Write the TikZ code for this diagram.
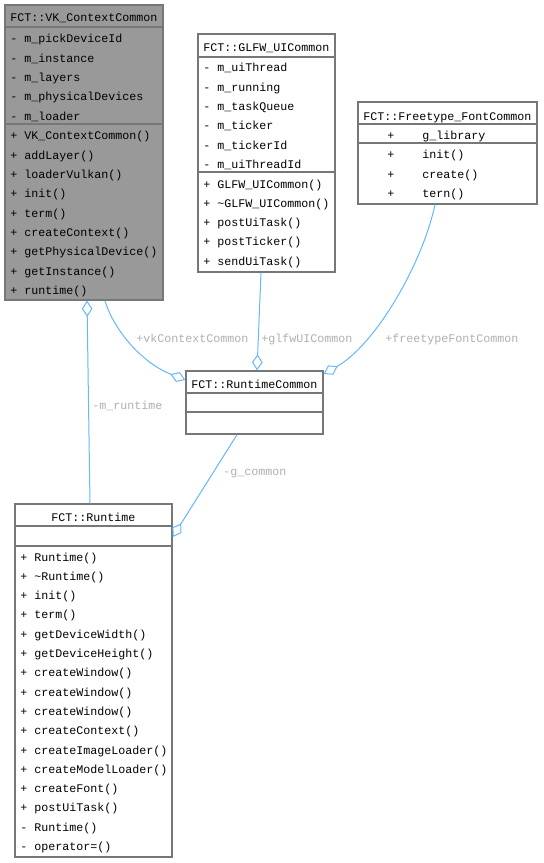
\documentclass[tikz,border=0pt]{standalone}
\usepackage{fontspec}
\newfontfamily\umlfont{Liberation Mono}
\usetikzlibrary{arrows.meta,fit}
\definecolor{boxgray}{HTML}{999999}
\definecolor{boxline}{HTML}{777777}
\definecolor{edgeblue}{HTML}{63B8FF}
\definecolor{labelgray}{HTML}{B0B0B0}
\tikzset{
    classbox/.style={draw=boxline, line width=1pt, inner sep=0pt, fill=white},
    sepline/.style={draw=boxline, line width=1pt},
    member/.style={anchor=west, inner sep=0pt, text height=8.5pt, text depth=1pt,
        font=\umlfont\fontsize{8.75}{10}\selectfont},
    assoc/.style={draw=edgeblue, line width=0.75pt},
    rolelabel/.style={member, text=labelgray},
    agg/.tip={Diamond[open,length=12pt,width=8pt]}
}
\begin{document}
\begin{tikzpicture}[x=0.75pt,y=-0.75pt]
            \fill[white] (0,0) rectangle (543,863);
            \useasboundingbox (0,0) rectangle (543,863);
            
            % classes
            \node[classbox, fill=boxgray, fit={(5,5) (163,300)}] (vk) {};
            \node[classbox, fit={(198,34) (335,272)}] (glfw) {};
            \node[classbox, fit={(358,102) (537,204)}] (ft) {};
            \node[classbox, fit={(186,371) (323,434)}] (rtc) {};
            \node[classbox, fit={(15,504) (172,857)}] (rt) {};
            
            \draw[sepline] (5,27) -- (163,27) (5,124) -- (163,124);
            \draw[sepline] (198,57) -- (335,57) (198,172) -- (335,172);
            \draw[sepline] (358,124) -- (537,124) (358,143) -- (537,143);
            \draw[sepline] (186,393) -- (323,393) (186,412) -- (323,412);
            \draw[sepline] (15,526) -- (172,526) (15,546) -- (172,546);
            
            % VK_ContextCommon
            \node[member] (vkname) at (10,17) {FCT::VK\_ContextCommon};
            \foreach \t [count=\i] in {m\_pickDeviceId, m\_instance, m\_layers, m\_physicalDevices, m\_loader}
                \node[member] at (10,{38+19.3*(\i-1)}) {- \t};
            \foreach \t [count=\i] in {VK\_ContextCommon(), addLayer(), loaderVulkan(), init(), term(), createContext(), getPhysicalDevice(), getInstance(), runtime()}
                \node[member] at (10,{135+19.3*(\i-1)}) {+ \t};
            
            % GLFW_UICommon
            \node[member] (glfwname) at (203,47) {FCT::GLFW\_UICommon};
            \foreach \t [count=\i] in {m\_uiThread, m\_running, m\_taskQueue, m\_ticker, m\_tickerId, m\_uiThreadId}
                \node[member] at (203,{67+19.3*(\i-1)}) {- \t};
            \foreach \t [count=\i] in {GLFW\_UICommon(), \textasciitilde GLFW\_UICommon(), postUiTask(), postTicker(), sendUiTask()}
                \node[member] at (203,{183+19.3*(\i-1)}) {+ \t};
            
            % Freetype_FontCommon
            \node[member] (ftname) at (363,116) {FCT::Freetype\_FontCommon};
            \node[member] at (387,135) {+};
            \node[member] at (422,135) {g\_library};
            \foreach \t [count=\i] in {init(), create(), tern()} {
                \node[member] at (387,{154+19.3*(\i-1)}) {+};
                \node[member] at (422,{154+19.3*(\i-1)}) {\t};
            }
            
            % RuntimeCommon
            \node[member] (rtcname) at (191,383) {FCT::RuntimeCommon};
            
            % Runtime
            \node[member, anchor=center] (rtname) at (93.5,516) {FCT::Runtime};
            \foreach \t [count=\i] in {+ Runtime(), + \textasciitilde Runtime(), + init(), + term(), + getDeviceWidth(), + getDeviceHeight(), + createWindow(), + createWindow(), + createWindow(), + createContext(), + createImageLoader(), + createModelLoader(), + createFont(), + postUiTask(), - Runtime(), - operator=()}
                \node[member] at (20,{556+19.3*(\i-1)}) {\t};
            
            % associations
            \draw[assoc, agg-] (vk.south -| 87,0) -- (rt.north -| 90,0);
            \draw[assoc, -agg] (vk.south -| 105,0) .. controls (113,328) and (140,362) .. (rtc.west |- 0,380);
            \draw[assoc, -agg] (glfw.south -| 261,0) -- (rtc.north -| 257,0);
            \draw[assoc, -agg] (ft.south -| 435,0) .. controls (422,265) and (375,345) .. (rtc.east |- 0,374);
            \draw[assoc, -agg] (rtc.south -| 237,0) -- (rt.east |- 0,537);
            
            \node[rolelabel] (lruntime) at (92,404) {-m\_runtime};
            \node[rolelabel] (lvk) at (136,337) {+vkContextCommon};
            \node[rolelabel] (lglfw) at (261,337) {+glfwUICommon};
            \node[rolelabel] (lft) at (385,337) {+freetypeFontCommon};
            \node[rolelabel] (lcommon) at (223,470) {-g\_common};
        
        \end{tikzpicture}
\end{document}
